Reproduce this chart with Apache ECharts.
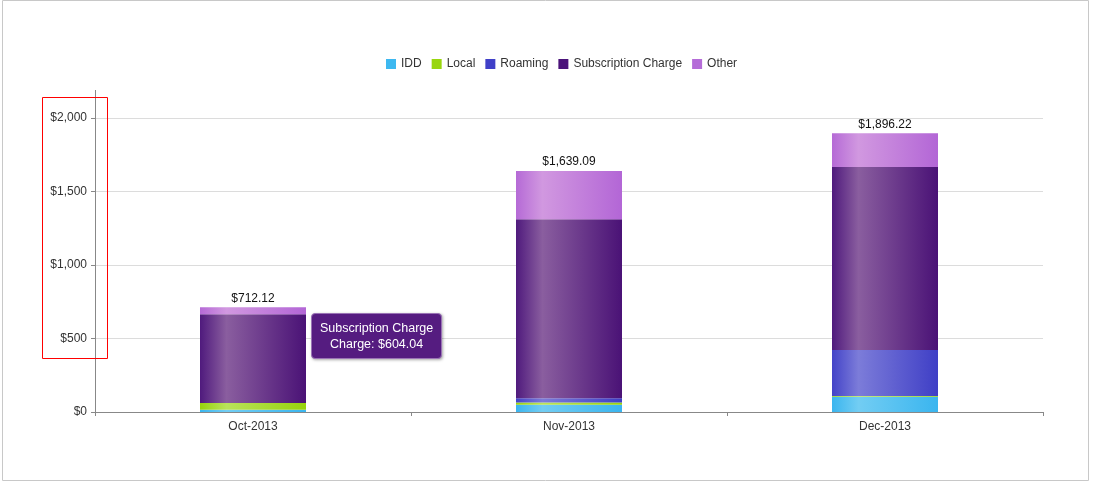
<!DOCTYPE html>
<html>
<head>
<meta charset="utf-8">
<script src="https://cdn.jsdelivr.net/npm/echarts@6/dist/echarts.min.js"></script>
<style>
  html, body { margin: 0; padding: 0; background: #fff; }
  #main { width: 1107px; height: 490px; }
</style>
</head>
<body>
<div id="main"></div>
<script>
var months = ['Oct-2013', 'Nov-2013', 'Dec-2013'];
var idd = [14.5, 50, 104];
var local = [46.3, 14, 5];
var roaming = [0, 29, 313];
var subscription = [604.04, 1218, 1245];
var other = [47.28, 328.09, 229.22];
var totals = [712.12, 1639.09, 1896.22];
var yTicks = [0, 500, 1000, 1500, 2000];

function money(v, dec) {
    return '$' + Number(v).toLocaleString('en-US', {minimumFractionDigits: dec, maximumFractionDigits: dec});
}

// bar fill with a light stripe a quarter of the way in
function shade(edge, light, right) {
    return new echarts.graphic.LinearGradient(0, 0, 1, 0, [
        {offset: 0, color: edge},
        {offset: 0.25, color: light},
        {offset: 1, color: right}
    ]);
}

var names = ['IDD', 'Local', 'Roaming', 'Subscription Charge', 'Other'];
var flat = ['#3db8f0', '#99d60e', '#4040c8', '#4b137a', '#b56cd8'];
var fills = [
    shade('#3ab5ef', '#72cdf3', '#3ab5ef'),
    shade('#97d30c', '#b9e35a', '#97d30c'),
    shade('#4343c8', '#7c7cd9', '#3f3fc6'),
    shade('#4f1a7d', '#8a5e9f', '#4a1276'),
    shade('#b56ad6', '#d198e0', '#b366d6')
];
var values = [idd, local, roaming, subscription, other];

var myChart = echarts.init(document.getElementById('main'));

var series = [];
var legendData = [];
for (var i = 0; i < names.length; i++) {
    legendData.push({name: names[i], itemStyle: {color: flat[i]}});
    var s = {
        name: names[i],
        type: 'bar',
        stack: 'total',
        barWidth: 106,
        data: values[i],
        itemStyle: {color: fills[i]},
        emphasis: {disabled: true}
    };
    if (i == names.length - 1) {
        s.label = {
            show: true,
            position: 'top',
            distance: 3,
            color: '#111',
            fontSize: 12,
            fontFamily: 'Liberation Sans, Arial, sans-serif',
            formatter: function (p) { return money(totals[p.dataIndex], 2); }
        };
    }
    series.push(s);
}

var option = {
    animation: false,
    color: flat,
    textStyle: {fontFamily: 'Liberation Sans, Arial, sans-serif'},
    legend: {
        data: legendData,
        left: 381,
        top: 53,
        icon: 'rect',
        itemWidth: 10,
        itemHeight: 10,
        itemGap: 10,
        textStyle: {color: '#333', fontSize: 12}
    },
    tooltip: {
        trigger: 'item',
        alwaysShowContent: true,
        position: [311, 313],
        backgroundColor: '#551c80',
        borderColor: '#9a73b5',
        borderWidth: 1,
        padding: [6, 8],
        textStyle: {color: '#fff', fontSize: 12.5, fontFamily: 'Liberation Sans, Arial, sans-serif'},
        extraCssText: 'text-align:center;border-radius:4px;box-shadow:1px 1px 3px rgba(0,0,0,0.35);line-height:16px;',
        formatter: function (p) {
            return p.seriesName + '<br>Charge: ' + money(p.value, 2);
        }
    },
    grid: {left: 95, right: 64, top: 118, bottom: 78},
    xAxis: {
        type: 'category',
        data: months,
        axisLine: {lineStyle: {color: '#888'}},
        axisTick: {show: true, length: 4, lineStyle: {color: '#888'}},
        axisLabel: {color: '#333', fontSize: 12, margin: 9}
    },
    yAxis: {
        type: 'value',
        min: yTicks[0],
        max: yTicks[yTicks.length - 1],
        interval: 500,
        axisLine: {show: true, lineStyle: {color: '#888'}},
        axisTick: {show: true, length: 4, lineStyle: {color: '#888'}},
        axisLabel: {color: '#333', fontSize: 12, margin: 8, formatter: function (v) { return money(v, 0); }},
        splitLine: {lineStyle: {color: '#dcdcdc'}}
    },
    graphic: [
        {type: 'rect', shape: {x: 2.5, y: 0.5, width: 1086, height: 480}, style: {fill: 'none', stroke: '#c8c8c8', lineWidth: 1}, silent: true},
        {type: 'line', shape: {x1: 95.5, y1: 90, x2: 95.5, y2: 118}, style: {stroke: '#888', lineWidth: 1}, silent: true},
        {type: 'rect', shape: {x: 42.5, y: 97.5, width: 65, height: 261}, style: {fill: 'none', stroke: '#ff0000', lineWidth: 1}, silent: true, z: 100}
    ],
    series: series
};

myChart.setOption(option);
myChart.dispatchAction({type: 'showTip', seriesIndex: 3, dataIndex: 0});
</script>
</body>
</html>
